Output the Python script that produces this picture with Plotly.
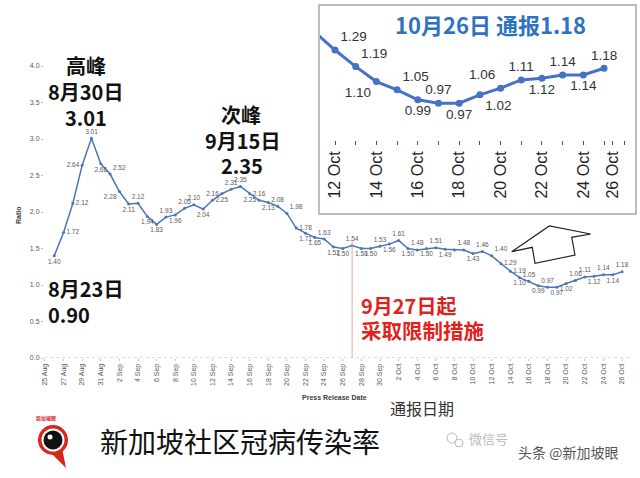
import pandas as pd
import plotly.graph_objects as go

# ---------------- data ----------------
start_date = "2021-08-26"
end_date = "2021-10-26"
ratios = [
    1.40, 1.72, 2.12, 2.64, 3.01, 2.66,                      # 26-31 Aug
    2.52, 2.28, 2.11, 2.12, 1.94, 1.83, 1.93, 1.96, 2.05, 2.10,  # 1-10 Sep
    2.04, 2.16, 2.25, 2.31, 2.35, 2.25, 2.16, 2.13, 2.08, 1.98,  # 11-20 Sep
    1.78, 1.71, 1.65, 1.63, 1.52, 1.50, 1.54, 1.50, 1.50, 1.53,  # 21-30 Sep
    1.56, 1.61, 1.50, 1.48, 1.50, 1.51, 1.49, 1.48, 1.48, 1.43,  # 1-10 Oct
    1.46, 1.40, 1.29, 1.19, 1.10, 1.05, 0.99, 0.97, 0.97, 1.02,  # 11-20 Oct
    1.06, 1.11, 1.12, 1.14, 1.14, 1.18,                      # 21-26 Oct
]
unlabeled_dates = ["2021-10-08"]
tick_start, tick_end = "2021-08-25", "2021-10-26"
y_ticks = [0.0, 0.5, 1.0, 1.5, 2.0, 2.5, 3.0, 3.5, 4.0]

inset_start = "2021-10-13"
inset_tick_dates = ["2021-10-13", "2021-10-15", "2021-10-17", "2021-10-19",
                    "2021-10-21", "2021-10-23", "2021-10-25", "2021-10-26 10:00"]
inset_tick_labels = ["12 Oct", "14 Oct", "16 Oct", "18 Oct", "20 Oct", "22 Oct", "24 Oct", "26 Oct"]

restriction_date = "2021-09-27"

# label placement (style)
main_label_pos = [
    "bottom center", "middle right", "middle right", "middle left", "top center", "bottom center",
    "top right", "bottom left", "bottom center", "top center", "bottom center", "bottom center",
    "top center", "bottom center", "top center", "top center",
    "bottom center", "top center", "bottom center", "top center", "top center", "bottom center",
    "top center", "bottom center", "top center", "top right",
    "middle right", "bottom center", "bottom center", "top center", "bottom center", "bottom center",
    "top center", "bottom center", "bottom center", "top center",
    "bottom center", "top center", "bottom center", "top center", "bottom center", "top center",
    "bottom center", "top center", "top center", "bottom center",
    "top center", "top right", "middle right", "middle right", "bottom center", "top center",
    "bottom center", "top center", "bottom center", "bottom center",
    "top center", "top center", "bottom center", "top center", "bottom center", "top center",
]
inset_label_pos = ["top right", "top right", "bottom left", "top right", "bottom center", "top center",
                   "bottom center", "bottom right", "top left", "top center", "bottom center",
                   "top center", "bottom center", "top center"]

# ---------------- build ----------------
dates = pd.date_range(start_date, end_date, freq="D")
unl = set(pd.to_datetime(unlabeled_dates))
main_text = ["" if d in unl else f"{v:.2f}" for d, v in zip(dates, ratios)]

tick_dates = pd.date_range(tick_start, tick_end, freq="2D")
tick_labels = [f"{d.day} {d.strftime('%b')}" for d in tick_dates]

W, H = 640, 478
def px(x): return x / W
def py(y): return 1 - y / H

BLUE = "#4A78B5"
CJK = "Noto Sans CJK SC"
LAT = "Liberation Sans"

fig = go.Figure()

fig.add_trace(go.Scatter(
    x=dates, y=ratios, mode="lines+markers+text",
    line=dict(color=BLUE, width=1.5), marker=dict(size=3, color=BLUE),
    text=main_text, textposition=main_label_pos,
    textfont=dict(size=6.5, color="#595959", family=LAT),
    xaxis="x", yaxis="y", showlegend=False, cliponaxis=False, hoverinfo="x+y",
))

# inset trace: same series, zoomed range
i0 = list(dates).index(pd.Timestamp(inset_start))
inset_x = dates[i0 - 1:]
inset_y = ratios[i0 - 1:]
inset_text = [""] + [f"{v:.2f}" for v in ratios[i0:]]
inset_pos = ["top center"] + inset_label_pos
fig.add_trace(go.Scatter(
    x=inset_x, y=inset_y, mode="lines+markers+text",
    line=dict(color="#4472C4", width=3), marker=dict(size=7, color="#4472C4"),
    text=inset_text, textposition=inset_pos,
    textfont=dict(size=13.5, color="#333333", family=LAT),
    xaxis="x2", yaxis="y2", showlegend=False, cliponaxis=True,
))

day = pd.Timedelta(days=1)
main_range = [pd.Timestamp(tick_start) - 0.1 * day, pd.Timestamp(tick_end) + 1.07 * day]
inset_range = [pd.Timestamp(inset_start) - 0.725 * day, pd.Timestamp(inset_start) + 14.4 * day]

fig.update_layout(
    width=W, height=H, margin=dict(l=0, r=0, t=0, b=0, pad=0, autoexpand=False),
    paper_bgcolor="white", plot_bgcolor="rgba(0,0,0,0)",
    font=dict(family=f"{LAT}, {CJK}"),
    xaxis=dict(domain=[px(44), px(632)], range=main_range, type="date", automargin=False,
               tickmode="array", tickvals=tick_dates, ticktext=tick_labels,
               tickangle=-90, tickfont=dict(size=7, color="#595959"),
               ticks="outside", ticklen=2, tickcolor="#BFBFBF",
               showgrid=False, zeroline=False, showline=False),
    yaxis=dict(domain=[1 - 358 / H, 1 - 66 / H], range=[0, 4.0], automargin=False,
               tickmode="array", tickvals=y_ticks, tickformat=".1f",
               tickfont=dict(size=7, color="#595959"),
               ticks="outside", ticklen=2, tickcolor="#BFBFBF",
               showgrid=False, zeroline=False, showline=False),
    xaxis2=dict(domain=[px(320), px(633)], range=inset_range, type="date", anchor="y2",
                automargin=False,
                tickmode="array", tickvals=inset_tick_dates, ticktext=inset_tick_labels,
                tickangle=-90, tickfont=dict(size=16, color="#222222"),
                ticks="outside", ticklen=4, tickcolor="#555555",
                minor=dict(ticks="outside", ticklen=4, tickcolor="#555555",
                           tick0=inset_start, dtick=86400000),
                showgrid=False, zeroline=False, showline=False),
    yaxis2=dict(domain=[1 - 140 / H, 1 - 12 / H], range=[0.748, 1.519], anchor="x2",
                visible=False),
)

shapes = []
# inset box
shapes.append(dict(type="rect", xref="paper", yref="paper", x0=px(319), x1=px(636),
                   y0=py(214), y1=py(5), fillcolor="white",
                   line=dict(color="#A6A6A6", width=1.5), layer="below"))
# dotted baseline
shapes.append(dict(type="line", xref="paper", yref="y", x0=px(44), x1=px(632), y0=0, y1=0,
                   line=dict(color="#BFBFBF", width=1, dash="dot")))
# restriction line
shapes.append(dict(type="line", xref="x", yref="y", x0=restriction_date, x1=restriction_date,
                   y0=-0.12, y1=1.62, line=dict(color="#EBA3A3", width=1)))
# arrow outline
arrow_pts = [(511.7, 251.7), (549.3, 226), (590.7, 234), (571.7, 237.3),
             (575, 255), (535, 263.3), (532.3, 247.3)]
path = "M " + " L ".join(f"{px(a):.5f},{py(b):.5f}" for a, b in arrow_pts) + " Z"
shapes.append(dict(type="path", xref="paper", yref="paper", path=path,
                   fillcolor="white", line=dict(color="#222222", width=1.2)))
# logo
def circ(cx, cy, r, fill, line_color=None, lw=0):
    return dict(type="circle", xref="paper", yref="paper",
                x0=px(cx - r), x1=px(cx + r), y0=py(cy + r), y1=py(cy - r),
                fillcolor=fill, line=dict(color=line_color or fill, width=lw))
shapes.append(dict(type="path", xref="paper", yref="paper",
                   path=f"M {px(50)},{py(452)} L {px(66)},{py(468)} L {px(62)},{py(448)} Z",
                   fillcolor="#D9261C", line=dict(color="#D9261C", width=0)))
shapes.append(circ(53, 440, 15, "#D9261C"))
shapes.append(circ(53, 440, 11.5, "white"))
shapes.append(circ(53, 440, 9.5, "#111111"))
shapes.append(circ(50, 437, 2.5, "white"))
# wechat icon
shapes.append(circ(452, 438, 5, "white", "#BBBBBB", 1))
shapes.append(circ(459, 443, 4, "white", "#BBBBBB", 1))
fig.update_layout(shapes=shapes)

ann = []
def A(text, x, y, size, color="#111111", xanchor="center", family=CJK, angle=0):
    ann.append(dict(text=text, x=px(x), y=py(y), xref="paper", yref="paper",
                    xanchor=xanchor, yanchor="middle", showarrow=False, textangle=angle,
                    font=dict(size=size, color=color, family=family)))

A("<b>高峰</b>", 86, 66, 20)
A("<b>8月30日</b>", 85, 92, 20)
A("<b>3.01</b>", 86, 117, 20)
A("<b>次峰</b>", 241, 114, 20)
A("<b>9月15日</b>", 242, 140, 20)
A("<b>2.35</b>", 242, 165, 20)
A("<b>8月23日</b>", 46, 288, 20, xanchor="left")
A("<b>0.90</b>", 46, 314, 20, xanchor="left")
A("<b>9月27日起</b>", 359, 305, 20, color="#E3211C", xanchor="left")
A("<b>采取限制措施</b>", 359, 330, 20.5, color="#E3211C", xanchor="left")
A("<b>10月26日 通报1.18</b>", 490, 24, 22, color="#2E72C2")
A("<b>Ratio</b>", 18, 215, 7, color="#404040", family=LAT, angle=-90)
A("<b>Press Release Date</b>", 334, 397, 7, color="#404040", family=LAT)
A("通报日期", 422, 408, 16, color="#333333")
A("新加坡社区冠病传染率", 240, 441, 28, color="#111111")
A("<b>新加坡眼</b>", 46, 418, 5, color="#D9261C")
A("微信号", 488, 438, 13, color="#BBBBBB")
A("头条 @新加坡眼", 568, 452, 14, color="#555555")
fig.update_layout(annotations=ann)

fig.write_html("out.html", config={"displayModeBar": False},
               post_script="document.body.style.margin='0';document.body.style.overflow='hidden';")
